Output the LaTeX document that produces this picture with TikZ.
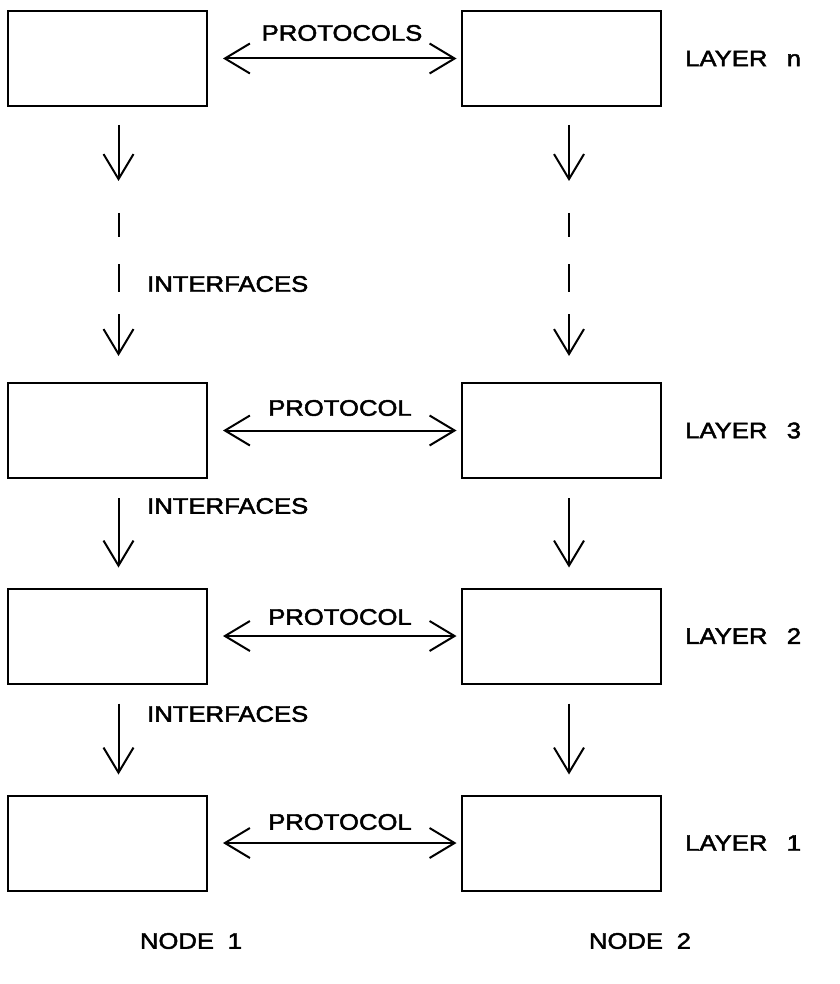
\documentclass[tikz,border=0pt]{standalone}
\usepackage{fontspec}
\newfontfamily\plotfont[FakeBold=2]{Liberation Sans}
\usetikzlibrary{arrows.meta}

\tikzset{
  layerbox/.style={draw, line width=2pt, minimum width=199pt, minimum height=95pt, inner sep=0pt},
  lbl/.style={font=\plotfont\fontsize{22.5}{26}\selectfont, inner sep=0pt},
  arr/.style={line width=2pt, -{Straight Barb[length=25pt, width=30pt, line width=2pt]}},
  biarr/.style={line width=2pt, {Straight Barb[length=25pt, width=30pt, line width=2pt]}-{Straight Barb[length=25pt, width=30pt, line width=2pt]}},
  seg/.style={line width=2pt}
}
\newcommand{\wide}[1]{\scalebox{1.14}[1]{#1}}

\begin{document}
\begin{tikzpicture}[x=1pt, y=-1pt]
  \useasboundingbox (0,0) rectangle (839,984);

  % protocol boxes, node 1 (left) and node 2 (right)
  \node[layerbox] (an) at (107.5,58.5) {};
  \node[layerbox] (bn) at (561,58.5) {};
  \node[layerbox] (a3) at (107.5,430.5) {};
  \node[layerbox] (b3) at (561,430.5) {};
  \node[layerbox] (a2) at (107.5,636) {};
  \node[layerbox] (b2) at (561,636) {};
  \node[layerbox] (a1) at (107.5,843) {};
  \node[layerbox] (b1) at (561,843) {};

  % peer protocols
  \draw[biarr] ([xshift=15pt]an.east) -- ([xshift=-4pt]bn.west);
  \draw[biarr] ([xshift=15pt]a3.east) -- ([xshift=-4pt]b3.west);
  \draw[biarr] ([xshift=15pt]a2.east) -- ([xshift=-4pt]b2.west);
  \draw[biarr] ([xshift=15pt]a1.east) -- ([xshift=-4pt]b1.west);

  \node[lbl] (pn) at (342,33) {\wide{PROTOCOLS}};
  \node[lbl] (p3) at (340,408) {\wide{PROTOCOL}};
  \node[lbl] (p2) at (340,617) {\wide{PROTOCOL}};
  \node[lbl] (p1) at (340,822) {\wide{PROTOCOL}};

  \node[lbl, anchor=west] (ln) at (685,58.5) {\wide{LAYER\hspace{17pt}n}};
  \node[lbl, anchor=west] (l3) at (685,430.5) {\wide{LAYER\hspace{17pt}3}};
  \node[lbl, anchor=west] (l2) at (685,636) {\wide{LAYER\hspace{17pt}2}};
  \node[lbl, anchor=west] (l1) at (685,843) {\wide{LAYER\hspace{17pt}1}};

  % interfaces from layer n down to layer 3 (broken line)
  \foreach \c/\d/\dx in {an/a3/11, bn/b3/8} {
    \coordinate (\c t) at ([xshift=\dx pt, yshift=-18pt]\c.south);
    \coordinate (\c u) at ([yshift=-56pt]\c t);
    \coordinate (\c s1) at ([yshift=-88pt]\c t);
    \coordinate (\c s2) at ([yshift=-112pt]\c t);
    \coordinate (\c s3) at ([yshift=-139pt]\c t);
    \coordinate (\c s4) at ([yshift=-167pt]\c t);
    \coordinate (\c s5) at ([yshift=-189pt]\c t);
    \coordinate (\c e) at ([yshift=26pt]\d.north);
    \draw[arr] (\c t) -- (\c u);
    \draw[seg] (\c s1) -- (\c s2);
    \draw[seg] (\c s3) -- (\c s4);
    \draw[arr] (\c s5) -- (\c s5 |- \c e);
  }
  \node[lbl, anchor=west] (in) at (147,284) {\wide{INTERFACES}};

  % interfaces between the lower layers
  \draw[arr] ([xshift=11pt, yshift=-19pt]a3.south) -- ([xshift=11pt, yshift=20pt]a2.north);
  \draw[arr] ([xshift=8pt, yshift=-19pt]b3.south) -- ([xshift=8pt, yshift=20pt]b2.north);
  \draw[arr] ([xshift=11pt, yshift=-19pt]a2.south) -- ([xshift=11pt, yshift=20pt]a1.north);
  \draw[arr] ([xshift=8pt, yshift=-19pt]b2.south) -- ([xshift=8pt, yshift=20pt]b1.north);
  \node[lbl, anchor=west] (i3) at (147,506) {\wide{INTERFACES}};
  \node[lbl, anchor=west] (i2) at (147,714) {\wide{INTERFACES}};

  % end systems
  \node[lbl] (n1) at (191,941) {\wide{NODE\hspace{12pt}1}};
  \node[lbl] (n2) at (640,941) {\wide{NODE\hspace{12pt}2}};
\end{tikzpicture}
\end{document}
